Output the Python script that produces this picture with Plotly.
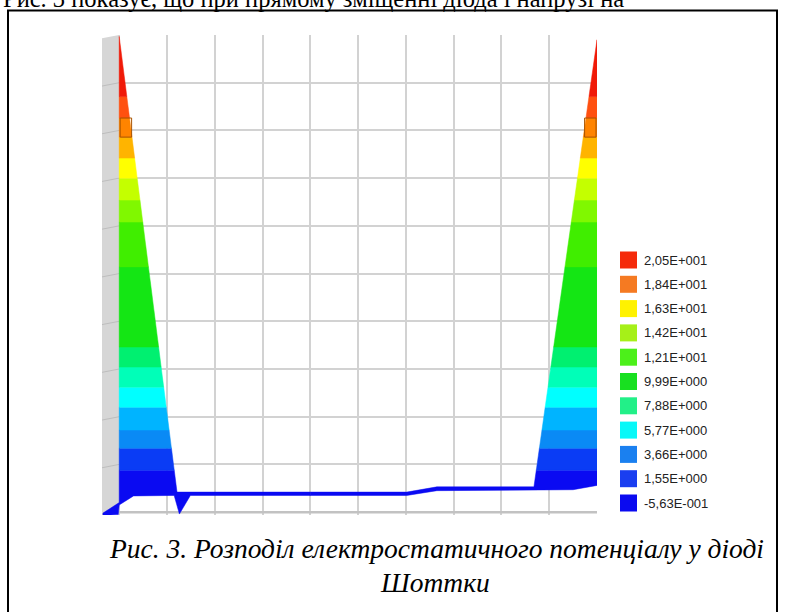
import plotly.graph_objects as go

# ---------------- data ----------------
# potential "surface" outline (grid units: x = position, y = height of potential)
top_x = [-0.34, -0.22, -0.10, 0.00, 0.00, 1.21, 6.02, 6.65, 8.68, 10.00]
top_y = [-0.02, 0.06, 0.14, 0.20, 9.97, 0.42, 0.42, 0.53, 0.53, 9.90]
bot_x = [-0.34, -0.02, 0.00, 0.30, 1.15, 1.26, 1.49, 6.02, 6.65, 9.50, 10.00]
bot_y = [-0.07, -0.05, 0.15, 0.34, 0.35, -0.04, 0.35, 0.35, 0.45, 0.47, 0.56]

# colour bands of the contour fill (lower edge of each band, bottom -> top)
band_lo = [-1.0, 0.88, 1.34, 1.72, 2.20, 2.62, 3.04, 3.46, 5.14, 6.08, 6.54, 7.00, 7.42, 7.86, 8.26, 8.71]
band_colors = ["#0a0af2", "#0a3cf5", "#0a8af5", "#00b4ff", "#00ffff", "#00ffb8", "#00f070",
               "#14e614", "#40ee00", "#80f800", "#c4ff00", "#ffff00", "#ffb400", "#ff8400",
               "#ff5010", "#f01a08"]
highlight_band = 13   # band drawn with an outline box in the picture

# legend
legend_labels = ["2,05E+001", "1,84E+001", "1,63E+001", "1,42E+001", "1,21E+001", "9,99E+000",
                 "7,88E+000", "5,77E+000", "3,66E+000", "1,55E+000", "-5,63E-001"]
legend_colors = ["#f52a0a", "#f57a22", "#fff200", "#a6f018", "#4cf01a", "#18e020",
                 "#22f088", "#08f8f8", "#1a80f0", "#1a3ef0", "#0a0af0"]

caption_1 = "Рис. 3. Розподіл електростатичного потенціалу у діоді"
caption_2 = "Шоттки"
top_text = "Рис. 3 показує, що при прямому зміщенні діода і напрузі на"

# ---------------- geometry helpers ----------------
W, H = 792, 612
ML, MR, MT, MB = 102, 195, 35, 97
PW, PH = W - ML - MR, H - MT - MB


def px(xp):
    return (xp - ML) / PW


def py(yp):
    return (H - MB - yp) / PH


def clip(points, inside, inter):
    out = []
    n = len(points)
    for i in range(n):
        cur, prev = points[i], points[i - 1]
        if inside(cur):
            if not inside(prev):
                out.append(inter(prev, cur))
            out.append(cur)
        elif inside(prev):
            out.append(inter(prev, cur))
    return out


def iy(a, b, yv):
    t = (yv - a[1]) / (b[1] - a[1])
    return (a[0] + t * (b[0] - a[0]), yv)


def ix(a, b, xv):
    t = (xv - a[0]) / (b[0] - a[0])
    return (xv, a[1] + t * (b[1] - a[1]))


outline = list(zip(top_x, top_y)) + list(zip(bot_x, bot_y))[::-1]
SPLIT = 4.0
pieces = [clip(outline, lambda p: p[0] <= SPLIT, lambda a, b: ix(a, b, SPLIT)),
          clip(outline, lambda p: p[0] >= SPLIT, lambda a, b: ix(a, b, SPLIT))]

fig = go.Figure()

band_hi = band_lo[1:] + [12.0]
for piece in pieces:
    for lo, hi, col in zip(band_lo, band_hi, band_colors):
        poly = clip(piece, lambda p: p[1] >= lo, lambda a, b: iy(a, b, lo))
        if poly:
            poly = clip(poly, lambda p: p[1] <= hi, lambda a, b: iy(a, b, hi))
        if len(poly) < 3:
            continue
        xs = [p[0] for p in poly] + [poly[0][0]]
        ys = [p[1] for p in poly] + [poly[0][1]]
        fig.add_trace(go.Scatter(x=xs, y=ys, mode="lines", fill="toself", fillcolor=col,
                                 line=dict(color=col, width=0.5), hoverinfo="skip",
                                 showlegend=False))

shapes = []
# left 3D wall
shapes.append(dict(type="path", xref="x", yref="y", layer="between",
                   path="M -0.36 9.93 L 0 10 L 0 0 L -0.36 -0.06 Z",
                   fillcolor="#d6d6d6", line=dict(width=0)))
# faint slanted marks on the wall at grid heights
for k in range(1, 10):
    shapes.append(dict(type="line", xref="x", yref="y", layer="between",
                       x0=-0.36, x1=0, y0=k - 0.07, y1=k, line=dict(color="#bdbdbd", width=1)))
# floor edge
shapes.append(dict(type="line", xref="x", yref="y", layer="between",
                   x0=0, x1=10, y0=0, y1=0, line=dict(color="#c2c2c2", width=2.5)))
shapes.append(dict(type="line", xref="x", yref="y", layer="between",
                   x0=-0.36, x1=0, y0=-0.05, y1=0, line=dict(color="#c8c8c8", width=2)))

# outlined band (thin darker frame) on both wedges
hb_lo, hb_hi = band_lo[highlight_band], band_lo[highlight_band + 1]
shapes.append(dict(type="rect", xref="x", yref="y", layer="above",
                   x0=0.02, x1=0.26, y0=hb_lo, y1=hb_hi,
                   line=dict(color="#a85400", width=1), fillcolor="rgba(0,0,0,0)"))
shapes.append(dict(type="rect", xref="x", yref="y", layer="above",
                   x0=9.74, x1=9.98, y0=hb_lo, y1=hb_hi,
                   line=dict(color="#a85400", width=1), fillcolor="rgba(0,0,0,0)"))

# legend squares
for i, col in enumerate(legend_colors):
    cy = 260 + 24.3 * i
    shapes.append(dict(type="rect", xref="paper", yref="paper",
                       x0=px(620), x1=px(637), y0=py(cy + 8.5), y1=py(cy - 8.5),
                       fillcolor=col, line=dict(width=0)))

# page frame
shapes.append(dict(type="line", xref="paper", yref="paper", x0=px(8), x1=px(8),
                   y0=py(10), y1=py(640), line=dict(color="black", width=2)))
shapes.append(dict(type="line", xref="paper", yref="paper", x0=px(777), x1=px(777),
                   y0=py(10), y1=py(640), line=dict(color="black", width=2)))
shapes.append(dict(type="line", xref="paper", yref="paper", x0=px(7), x1=px(778),
                   y0=py(10.5), y1=py(10.5), line=dict(color="black", width=2)))

annotations = []
for i, lab in enumerate(legend_labels):
    cy = 260 + 24.3 * i
    annotations.append(dict(text=lab, xref="paper", yref="paper", x=px(642), y=py(cy),
                            xanchor="left", yanchor="middle", showarrow=False,
                            font=dict(family="Liberation Sans, Arial", size=13, color="#222")))

annotations.append(dict(text="<i>" + caption_1 + "</i>", xref="paper", yref="paper",
                        x=px(436), y=py(566), xanchor="center", yanchor="bottom",
                        showarrow=False,
                        font=dict(family="Liberation Serif, Times New Roman", size=27.5, color="black")))
annotations.append(dict(text="<i>" + caption_2 + "</i>", xref="paper", yref="paper",
                        x=px(435), y=py(600), xanchor="center", yanchor="bottom",
                        showarrow=False,
                        font=dict(family="Liberation Serif, Times New Roman", size=27.5, color="black")))
annotations.append(dict(text=top_text, xref="paper", yref="paper",
                        x=px(1), y=py(14), xanchor="left", yanchor="bottom",
                        showarrow=False,
                        font=dict(family="Liberation Serif, Times New Roman", size=24.5, color="black")))

fig.update_layout(
    width=W, height=H,
    margin=dict(l=ML, r=MR, t=MT, b=MB),
    paper_bgcolor="white", plot_bgcolor="white",
    xaxis=dict(range=[-0.36, 10], tick0=0, dtick=1, showgrid=True, gridcolor="#d2d2d2",
               gridwidth=1.5, showticklabels=False, zeroline=False, showline=False, ticks=""),
    yaxis=dict(range=[-0.06, 10], tick0=0, dtick=1, showgrid=True, gridcolor="#d2d2d2",
               gridwidth=1.5, showticklabels=False, zeroline=False, showline=False, ticks=""),
    shapes=shapes,
    annotations=annotations,
)

fig.write_html("out.html", config={"displayModeBar": False},
               post_script="document.body.style.margin='0';")
